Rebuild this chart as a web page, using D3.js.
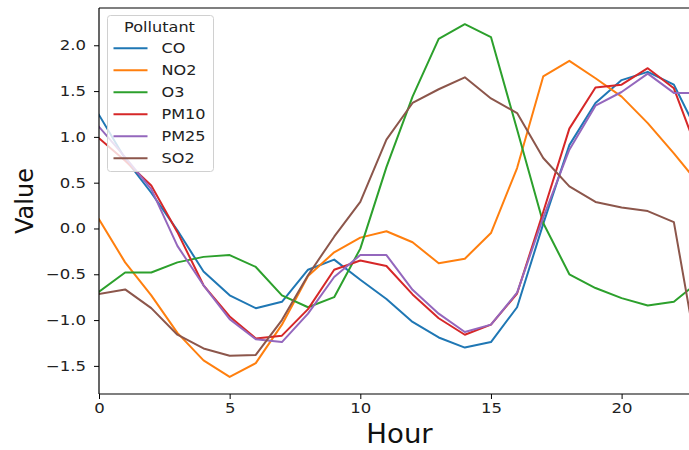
<!DOCTYPE html>
<html>
<head>
<meta charset="utf-8">
<script src="https://cdn.jsdelivr.net/npm/d3@7"></script>
<style>
  body { margin: 0; background: #fff; }
  svg { display: block; font-family: "DejaVu Sans", sans-serif; }
</style>
</head>
<body>
<div id="chart"></div>
<script>

// hours 0..23
var hours = d3.range(0, 24)

var pollutants = ["CO", "NO2", "O3", "PM10", "PM25", "SO2"]

var colors = ["#1f77b4", "#ff7f0e", "#2ca02c", "#d62728", "#9467bd", "#8c564b"]

var co = [1.24, 0.76, 0.39, -0.02, -0.47, -0.73, -0.87, -0.80, -0.45, -0.34, -0.56, -0.77, -1.02, -1.19, -1.30, -1.24, -0.86, 0.05, 0.91, 1.37, 1.62, 1.71, 1.57, 1.00]
var no2 = [0.10, -0.37, -0.73, -1.14, -1.44, -1.62, -1.47, -1.05, -0.52, -0.26, -0.10, -0.03, -0.15, -0.38, -0.33, -0.05, 0.66, 1.66, 1.83, 1.64, 1.44, 1.15, 0.82, 0.47]
var o3 = [-0.69, -0.48, -0.48, -0.37, -0.31, -0.29, -0.42, -0.73, -0.86, -0.75, -0.22, 0.67, 1.44, 2.07, 2.23, 2.09, 1.08, 0.06, -0.50, -0.65, -0.76, -0.84, -0.80, -0.57]
var pm10 = [0.985, 0.74, 0.47, -0.04, -0.62, -0.96, -1.20, -1.17, -0.88, -0.45, -0.35, -0.41, -0.72, -0.98, -1.16, -1.05, -0.71, 0.18, 1.09, 1.54, 1.57, 1.75, 1.53, 0.77]
var pm25 = [1.11, 0.78, 0.43, -0.19, -0.62, -0.99, -1.21, -1.24, -0.93, -0.53, -0.29, -0.29, -0.67, -0.93, -1.13, -1.05, -0.70, 0.12, 0.86, 1.34, 1.49, 1.69, 1.48, 1.48]
var so2 = [-0.715, -0.665, -0.87, -1.16, -1.31, -1.39, -1.38, -1.00, -0.51, -0.09, 0.29, 0.97, 1.37, 1.52, 1.65, 1.42, 1.26, 0.77, 0.46, 0.29, 0.23, 0.19, 0.07, -1.55]

var xTicks = [0, 5, 10, 15, 20]
var yTicks = [-1.5, -1.0, -0.5, 0.0, 0.5, 1.0, 1.5, 2.0]

var series = [co, no2, o3, pm10, pm25, so2]

var width = 689, height = 450

// plot area runs past the right edge of the picture (as in the reference)
var margin = {top: 8, left: 99, plotRight: 700, bottom: 394}

// the reference text looks a bit wider than plain DejaVu, stretch it sideways
var tickStretch = 1.18, legendStretch = 1.15

var svg = d3.select("#chart").append("svg")
    .attr("width", width)
    .attr("height", height)

var x = d3.scaleLinear()
    .domain([0, 23])
    .range([margin.left, margin.plotRight])

var y = d3.scaleLinear()
    .domain([-1.807, 2.407])
    .range([margin.bottom, margin.top])

svg.append("clipPath").attr("id", "plotclip")
    .append("rect")
    .attr("x", margin.left)
    .attr("y", margin.top)
    .attr("width", margin.plotRight - margin.left)
    .attr("height", margin.bottom - margin.top)

var line = d3.line()
    .x(function(d, i) { return x(hours[i]) })
    .y(function(d) { return y(d) })

svg.append("g")
    .attr("clip-path", "url(#plotclip)")
    .selectAll("path")
    .data(series)
    .enter()
    .append("path")
    .attr("d", line)
    .style("fill", "none")
    .style("stroke", function(d, i) { return colors[i] })
    .style("stroke-width", 2)
    .style("stroke-linejoin", "round")
    .style("stroke-linecap", "square")

// axes
var fmt = d3.format(".1f")

var xAxis = svg.append("g")
    .attr("transform", "translate(0," + margin.bottom + ")")
    .call(d3.axisBottom(x).tickValues(xTicks).tickSize(5).tickPadding(4).tickFormat(d3.format("d")))

var yAxis = svg.append("g")
    .attr("transform", "translate(" + margin.left + ",0)")
    .call(d3.axisLeft(y).tickValues(yTicks).tickSize(5).tickPadding(5).tickFormat(fmt))

;[xAxis, yAxis].forEach(function(g) {
    g.select(".domain").remove()
    g.selectAll("line").style("stroke", "#000").style("stroke-width", 1)
    g.selectAll("text")
        .attr("transform", "scale(" + tickStretch + ",1)")
        .style("font-size", "14px").style("fill", "#222").style("font-family", "DejaVu Sans")
})

yAxis.selectAll("text").attr("x", -13 / tickStretch)

// spines
svg.append("line")
    .attr("x1", margin.left).attr("x2", margin.left)
    .attr("y1", margin.top).attr("y2", margin.bottom)
    .style("stroke", "#000").style("stroke-width", 1.2)

svg.append("line")
    .attr("x1", margin.left).attr("x2", width)
    .attr("y1", margin.bottom).attr("y2", margin.bottom)
    .style("stroke", "#000").style("stroke-width", 1.2)

svg.append("line")
    .attr("x1", margin.left).attr("x2", width)
    .attr("y1", margin.top).attr("y2", margin.top)
    .style("stroke", "#000").style("stroke-width", 1.2)

// axis labels
svg.append("text")
    .attr("transform", "translate(" + ((margin.left + margin.plotRight) / 2) + ",443) scale(1.06,1)")
    .attr("text-anchor", "middle")
    .style("font-size", "26px")
    .style("fill", "#111")
    .text("Hour")

svg.append("text")
    .attr("transform", "translate(33," + ((margin.top + margin.bottom) / 2) + ") rotate(-90)")
    .attr("text-anchor", "middle")
    .style("font-size", "24px")
    .style("fill", "#111")
    .text("Value")

// legend
var legend = svg.append("g")

legend.append("rect")
    .attr("x", 107.5)
    .attr("y", 15.5)
    .attr("width", 106)
    .attr("height", 156)
    .attr("rx", 3)
    .style("fill", "#fff")
    .style("fill-opacity", 0.8)
    .style("stroke", "#d0d0d0")
    .style("stroke-width", 1)

legend.append("text")
    .attr("transform", "translate(159.5,31.5) scale(" + legendStretch + ",1)")
    .attr("text-anchor", "middle")
    .style("font-size", "14px")
    .style("fill", "#222")
    .text("Pollutant")

var items = legend.selectAll(".item")
    .data(pollutants)
    .enter()
    .append("g")
    .attr("class", "item")
    .attr("transform", function(d, i) { return "translate(0," + (48.3 + i * 22) + ")" })

items.append("line")
    .attr("x1", 113.5).attr("x2", 147.5)
    .style("stroke", function(d, i) { return colors[i] })
    .style("stroke-width", 2)

items.append("text")
    .attr("transform", "translate(161.5,5) scale(" + legendStretch + ",1)")
    .style("font-size", "14px")
    .style("fill", "#222")
    .text(function(d) { return d })

</script>
</body>
</html>
